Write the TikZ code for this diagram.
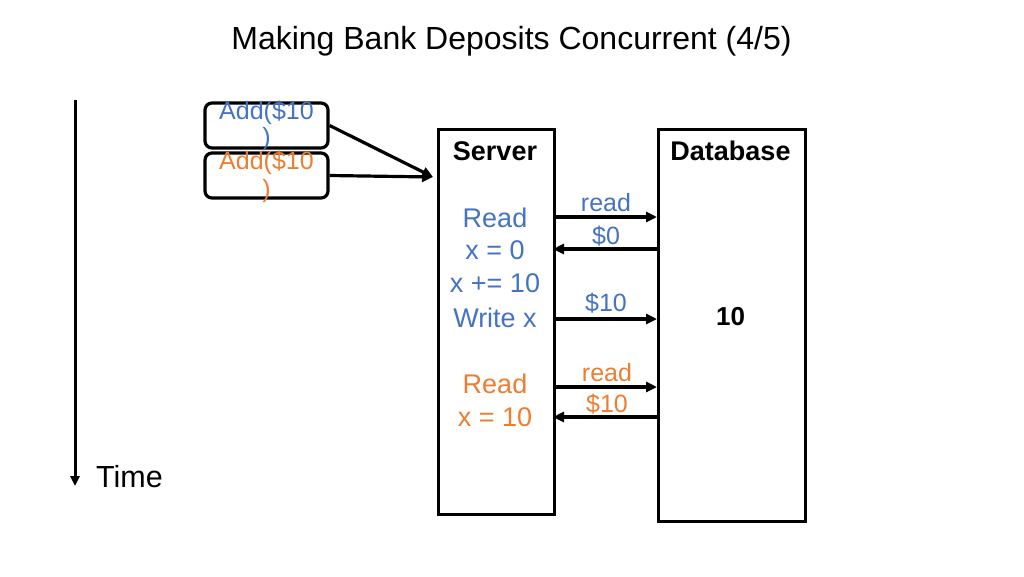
\documentclass[tikz,border=0pt]{standalone}
\usepackage{fontspec}
\setmainfont{Liberation Sans}
\usetikzlibrary{arrows.meta}
\definecolor{cblue}{HTML}{4472C4}
\definecolor{corange}{HTML}{ED7D31}
\tikzset{
  reqbox/.style={draw, line width=3.2pt, rounded corners=7pt, minimum width=123pt, minimum height=45pt, inner sep=0pt},
  procbox/.style={draw, line width=2.8pt, inner sep=0pt, anchor=north west},
  msg/.style={line width=3.2pt, -{Triangle[length=11pt,width=10pt]}},
  lbl/.style={inner sep=0pt, anchor=center},
}
\begin{document}
\begin{tikzpicture}[x=1pt,y=-1pt]
\useasboundingbox (0,0) rectangle (1024,576);
% title
\node[lbl, font=\fontsize{32}{32}\selectfont] (title) at (511.5,41.5) {Making Bank Deposits Concurrent (4/5)};
% time arrow
\coordinate (t0) at (75,100);
\coordinate (t1) at (75,486);
\draw[line width=3pt, -{Triangle[length=10pt,width=9pt]}] (t0) -- (t1);
\node[lbl, font=\fontsize{30.5}{30.5}\selectfont, anchor=west] (time) at (96,477) {Time};
% requests
\node[reqbox] (r1) at (266.5,125.5) {};
\node[reqbox] (r2) at (266.5,175.5) {};
\node[lbl, text=cblue, align=center, font=\fontsize{25}{26}\selectfont] (r1t) at (266.5,126) {Add(\$10\\)};
\node[lbl, text=corange, align=center, font=\fontsize{25}{28}\selectfont] (r2t) at (266.5,176.5) {Add(\$10\\)};
% server and database
\node[procbox, minimum width=116pt, minimum height=385pt] (srv) at (437,128) {};
\node[procbox, minimum width=147pt, minimum height=392pt] (db) at (657,128) {};
\coordinate (in) at (433,177);
\draw[msg] (r1.east) -- (in);
\draw[msg] (r2.east) -- (in);
\node[lbl, font=\bfseries\fontsize{27}{27}\selectfont] (srvt) at (495,151) {Server};
\node[lbl, font=\bfseries\fontsize{27}{27}\selectfont] (dbt) at (730.5,151) {Database};
\node[lbl, font=\bfseries\fontsize{26}{26}\selectfont] (dbv) at (730.5,317) {10};
% server steps
\begin{scope}[every node/.style={lbl, font=\fontsize{27}{27}\selectfont}]
\node[text=cblue] (s1) at (495,218) {Read};
\node[text=cblue] (s2) at (495,250.5) {x = 0};
\node[text=cblue] (s3) at (495,283.5) {x += 10};
\node[text=cblue] (s4) at (495,318) {Write x};
\node[text=corange] (s5) at (495,384) {Read};
\node[text=corange] (s6) at (495,417.5) {x = 10};
\end{scope}
% messages
\coordinate (a1) at (553,217); \coordinate (b1) at (657,217);
\coordinate (a2) at (553,249); \coordinate (b2) at (657,249);
\coordinate (a3) at (553,319); \coordinate (b3) at (657,319);
\coordinate (a4) at (553,387); \coordinate (b4) at (657,387);
\coordinate (a5) at (553,417); \coordinate (b5) at (657,417);
\draw[msg] (a1) -- (b1);
\draw[msg] (b2) -- (a2);
\draw[msg] (a3) -- (b3);
\draw[msg] (a4) -- (b4);
\draw[msg] (b5) -- (a5);
\begin{scope}[every node/.style={lbl, font=\fontsize{25}{25}\selectfont}]
\node[text=cblue] (m1) at (606,203) {read};
\node[text=cblue] (m2) at (606,236) {\$0};
\node[text=cblue] (m3) at (606,303) {\$10};
\node[text=corange] (m4) at (607,373) {read};
\node[text=corange] (m5) at (607,404) {\$10};
\end{scope}
\end{tikzpicture}
\end{document}
